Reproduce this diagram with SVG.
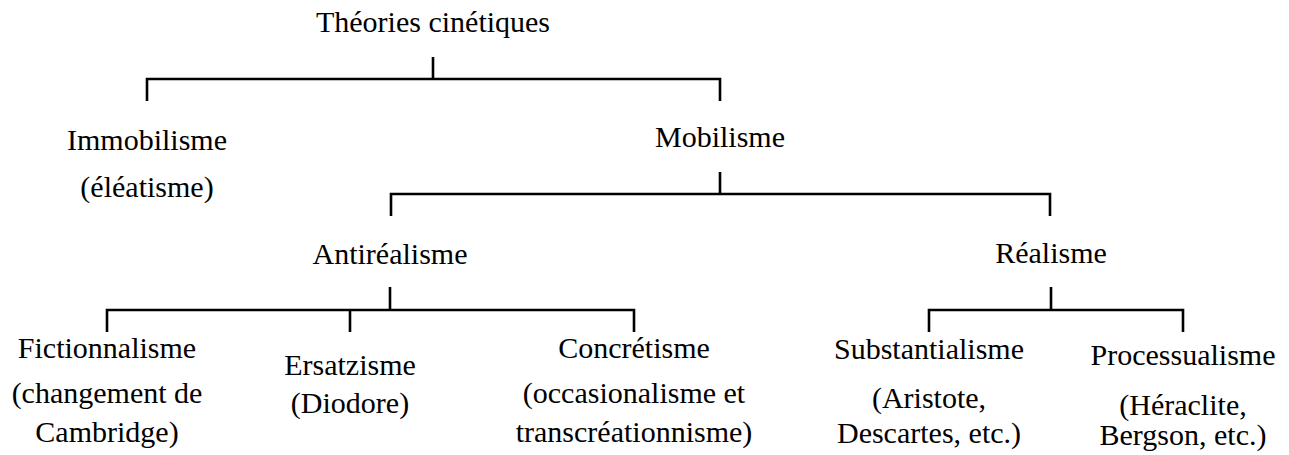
<svg xmlns="http://www.w3.org/2000/svg" width="1289" height="455" viewBox="0 0 1289 455">
<style>
.conn path { fill: none; stroke: #000; stroke-width: 2.6; stroke-linecap: butt; stroke-linejoin: miter; }
.lbl text { font-family: "Liberation Serif", "DejaVu Serif", serif; font-size: 30px; fill: #000; text-anchor: middle; }
</style>
<rect width="1289" height="455" fill="#fff"/>
<g class="conn" id="connectors">
<path d="M433 57 V79"/>
<path d="M147 101 V79 H720 V101"/>
<path d="M720 172 V194"/>
<path d="M391 216 V194 H1050 V216"/>
<path d="M390 287 V310"/>
<path d="M107 332 V310 H634 V332"/>
<path d="M350 310 V332"/>
<path d="M1051 287 V310"/>
<path d="M929 332 V310 H1183 V332"/>
</g>
<g class="lbl">
<g id="theories"><text x="433" y="32">Théories cinétiques</text></g>
<g id="immobilisme"><text x="147" y="150">Immobilisme</text><text x="147" y="197">(éléatisme)</text></g>
<g id="mobilisme"><text x="720" y="147">Mobilisme</text></g>
<g id="antirealisme"><text x="390" y="264">Antiréalisme</text></g>
<g id="realisme"><text x="1051" y="263">Réalisme</text></g>
<g id="fictionnalisme"><text x="107" y="358">Fictionnalisme</text><text x="107" y="403">(changement de</text><text x="107" y="442">Cambridge)</text></g>
<g id="ersatzisme"><text x="350" y="375">Ersatzisme</text><text x="350" y="413">(Diodore)</text></g>
<g id="concretisme"><text x="634" y="358">Concrétisme</text><text x="634" y="403">(occasionalisme et</text><text x="634" y="442">transcréationnisme)</text></g>
<g id="substantialisme"><text x="929" y="359">Substantialisme</text><text x="929" y="408">(Aristote,</text><text x="929" y="443">Descartes, etc.)</text></g>
<g id="processualisme"><text x="1183" y="365">Processualisme</text><text x="1183" y="415">(Héraclite,</text><text x="1183" y="445">Bergson, etc.)</text></g>
</g>
</svg>
